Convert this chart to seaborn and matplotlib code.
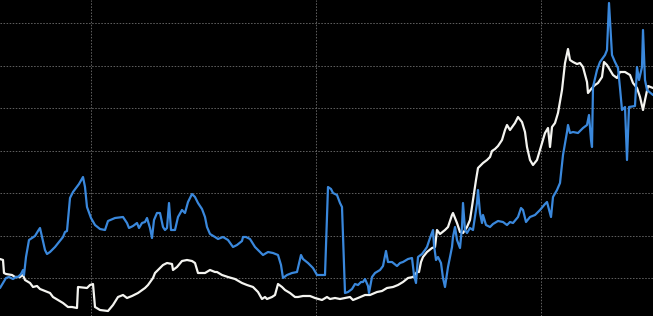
import numpy as np
import pandas as pd
import matplotlib
matplotlib.use("Agg")
import matplotlib.pyplot as plt
import seaborn as sns

# time index (sampled positions along the series)
white_t = [0,3,4,6,12,15,20,23,25,30,
           33,37,40,45,50,53,58,63,68,72,
           77,78,87,90,93,95,100,108,113,118,
           123,127,132,138,145,148,153,155,158,163,
           167,172,173,177,182,187,192,195,198,205,
           210,215,217,222,228,235,242,247,253,258,
           262,265,267,272,275,278,282,285,290,295,
           298,303,310,315,322,327,330,335,340,345,
           350,353,358,365,370,377,382,387,393,398,
           403,408,413,417,419,421,423,427,432,435,
           437,440,445,448,452,453,457,460,463,467,
           470,473,476,478,483,487,490,492,495,498,
           502,505,507,510,515,518,522,525,527,530,
           533,537,540,545,548,550,552,555,558,562,
           565,568,570,573,577,580,583,587,588,592,
           595,598,602,604,607,610,613,617,620,625,
           630,633,637,640,643,645,648,653]
white_v = [57,56,43,42,41,39,39,41,36,33,
           29,30,27,25,23,19,16,13,9,9,
           8,29,28,31,32,9,6,5,11,19,
           21,18,20,23,28,31,38,43,46,51,
           53,52,46,49,55,56,55,53,43,43,
           46,44,44,41,39,37,33,31,29,24,
           17,19,17,19,21,32,29,26,23,19,
           19,20,20,18,16,19,17,18,17,18,
           19,16,18,21,21,24,25,28,29,31,
           34,38,39,44,44,54,59,64,68,69,
           86,82,86,89,101,103,93,84,83,89,
           96,116,136,148,153,156,159,165,167,170,
           176,186,191,186,193,199,194,184,169,156,
           151,156,166,183,188,169,189,193,203,226,
           253,267,256,254,252,253,249,234,223,228,
           231,233,239,254,251,246,241,238,244,244,
           241,233,228,219,206,216,230,228]

blue_t = [0,3,6,9,13,16,18,21,23,24,
          26,29,32,35,38,40,42,45,47,50,
          55,59,63,65,67,70,73,76,79,83,
          85,87,91,95,100,105,108,115,123,127,
          129,133,137,139,142,145,147,150,152,154,
          157,160,163,165,167,169,171,175,178,182,
          185,188,192,195,198,202,205,207,210,215,
          218,223,228,233,237,242,243,246,250,255,
          260,263,268,273,278,281,283,287,292,297,
          301,303,308,313,317,320,325,328,331,333,
          337,340,342,345,348,352,355,358,361,363,
          365,368,369,372,375,380,383,386,388,392,
          397,400,403,408,412,414,416,418,422,425,
          427,430,433,434,436,438,441,443,445,448,
          452,453,455,457,460,462,463,465,467,470,
          473,477,478,480,482,483,486,490,493,498,
          503,507,510,513,518,521,523,526,530,535,
          540,545,547,551,553,557,560,563,567,568,
          570,573,578,583,587,589,591,592,593,597,
          600,605,607,609,612,615,618,620,622,625,
          627,629,635,637,639,642,643,645,647,653]
blue_v = [28,33,38,39,37,39,39,42,46,41,
          59,76,78,80,85,88,79,66,62,64,
          69,74,79,84,85,118,124,128,132,139,
          129,109,98,91,87,86,95,98,99,93,
          88,90,93,88,93,94,98,88,78,96,
          103,103,89,86,88,113,86,86,99,106,
          103,114,122,119,113,107,99,89,82,79,
          77,79,76,69,71,75,79,79,77,69,
          64,61,64,63,61,51,38,41,43,44,
          61,57,53,48,41,41,41,129,127,123,
          121,113,109,23,24,27,32,31,34,34,
          37,30,23,39,43,46,50,65,54,54,
          50,53,54,57,58,41,33,59,62,66,
          69,78,86,71,56,59,53,38,29,49,
          69,79,89,76,68,89,113,86,83,88,
          86,113,126,103,93,101,91,89,92,95,
          94,91,94,93,99,108,106,94,99,101,
          106,112,114,99,119,126,133,161,184,191,
          183,184,183,188,191,201,176,169,229,246,
          254,261,266,313,261,254,248,228,206,209,
          156,209,210,249,236,249,286,236,226,221]

x_grid = [91, 316, 541]
y_grid = [38, 80.5, 123, 165.5, 208, 250.5, 293]

sns.set_theme(style="dark", rc={
    "axes.facecolor": "black",
    "figure.facecolor": "black",
    "axes.edgecolor": "black",
})

fig = plt.figure(figsize=(6.53, 3.16), dpi=100)
ax = fig.add_axes([0, 0, 1, 1])
ax.set_facecolor("black")

white_df = pd.DataFrame({"t": white_t, "v": white_v})
blue_df = pd.DataFrame({"t": blue_t, "v": blue_v})

sns.lineplot(data=white_df, x="t", y="v", ax=ax, color="#f4f4f0",
             linewidth=1.6, estimator=None, sort=False, zorder=3)
sns.lineplot(data=blue_df, x="t", y="v", ax=ax, color="#3a88dc",
             linewidth=1.6, estimator=None, sort=False, zorder=4)

ax.set_xlim(0, 653)
ax.set_ylim(0, 316)
ax.set_xticks(x_grid)
ax.set_yticks(y_grid)
ax.grid(True, color="#7a7a7a", linestyle=(0, (2, 2)), linewidth=0.55)
ax.tick_params(length=0, labelbottom=False, labelleft=False)
ax.set_xlabel("")
ax.set_ylabel("")
for s in ax.spines.values():
    s.set_visible(False)

fig.savefig("out.png", dpi=100, facecolor="black")
